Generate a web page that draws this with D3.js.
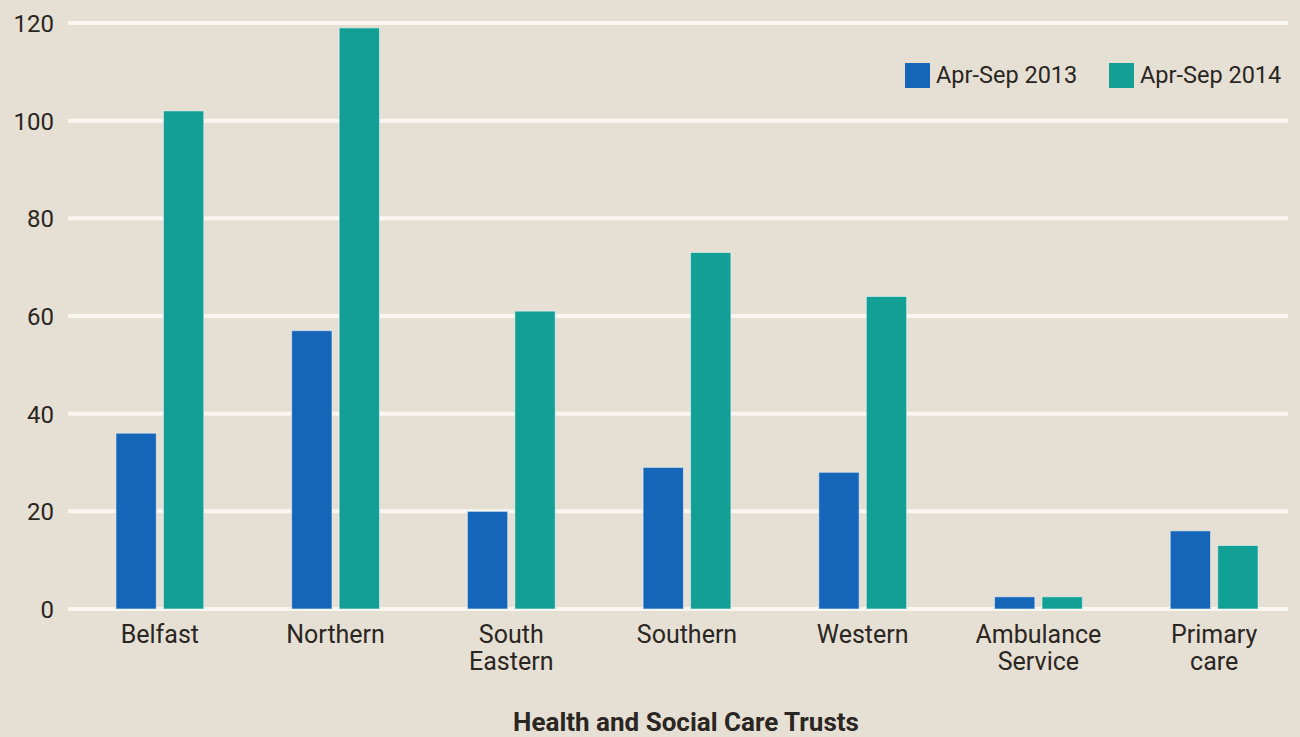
<!DOCTYPE html>
<html><head><meta charset="utf-8">
<script src="https://cdn.jsdelivr.net/npm/d3@7"></script>
<style>
html,body{margin:0;padding:0;background:#e6dfd4;}
svg{display:block;}
text{font-family:"Roboto","DejaVu Sans Condensed",sans-serif;fill:#2a2622;}
</style></head>
<body><svg id="c" width="1300" height="737"></svg>
<script>
const categories = [["Belfast"],["Northern"],["South","Eastern"],["Southern"],["Western"],["Ambulance","Service"],["Primary","care"]];
const seriesNames = ["Apr-Sep 2013","Apr-Sep 2014"];
const values2013 = [36,57,20,29,28,2.5,16];
const values2014 = [102,119,61,73,64,2.5,13];
const yTicks = [0,20,40,60,80,100,120];
const colors = ["#1565b8","#12a096"];
const xTitle = "Health and Social Care Trusts";

const svg = d3.select("#c");
svg.append("rect").attr("width",1300).attr("height",737).attr("fill","#e6dfd4");

const keys = categories.map(c=>c.join(" "));
const x = d3.scaleBand().domain(keys).range([72,1302]).paddingInner(0.5).paddingOuter(0.25);
const x1 = d3.scaleBand().domain(seriesNames).range([0,x.bandwidth()]).paddingInner(0.15);
const y = d3.scaleLinear().domain([0,120]).range([609,23]);

// gridlines
svg.append("g").selectAll("line").data(yTicks).join("line")
  .attr("x1",68).attr("x2",1288)
  .attr("y1",d=>y(d)).attr("y2",d=>y(d))
  .attr("stroke","#faf7f0").attr("stroke-width",4);

// y axis labels
const yAxis = d3.axisLeft(y).tickValues(yTicks).tickSize(0).tickPadding(0);
const ga = svg.append("g").attr("transform","translate(54,0)").call(yAxis);
ga.select(".domain").remove();
ga.selectAll("text").attr("font-size",24).attr("font-family","Roboto, sans-serif").attr("fill","#2a2622").attr("dy","0.36em");

// bars
const data = keys.map((k,i)=>({k, vals:[values2013[i],values2014[i]]}));
const g = svg.append("g").selectAll("g").data(data).join("g")
  .attr("transform",d=>`translate(${x(d.k)},0)`);
g.selectAll("rect").data(d=>d.vals.map((v,j)=>({s:seriesNames[j],v,j}))).join("rect")
  .attr("x",d=>x1(d.s)).attr("width",x1.bandwidth())
  .attr("y",d=>y(d.v)).attr("height",d=>y(0)-y(d.v))
  .attr("fill",d=>colors[d.j])
  .attr("stroke","#eef6f6").attr("stroke-width",1).attr("stroke-opacity",0.6);

// x labels
const xl = svg.append("g").selectAll("text").data(categories).join("text")
  .attr("x",(d,i)=>x(keys[i])+x.bandwidth()/2)
  .attr("y",643).attr("text-anchor","middle").attr("font-size",25);
xl.selectAll("tspan").data(d=>d).join("tspan")
  .attr("x",function(){return this.parentNode.getAttribute("x");})
  .attr("dy",(d,i)=>i===0?0:27).text(d=>d);

// x title
svg.append("text").attr("x",686).attr("y",731).attr("text-anchor","middle")
  .attr("font-size",26).attr("font-weight","bold")
  .attr("font-family","Roboto, sans-serif").text(xTitle);

// legend
const legX = [905,1109];
const lg = svg.append("g").selectAll("g").data(seriesNames).join("g")
  .attr("transform",(d,i)=>`translate(${legX[i]},63)`);
lg.append("rect").attr("width",25).attr("height",25).attr("fill",(d,i)=>colors[i]);
lg.append("text").attr("x",31).attr("y",20).attr("font-size",23.5).text(d=>d);
</script></body></html>
